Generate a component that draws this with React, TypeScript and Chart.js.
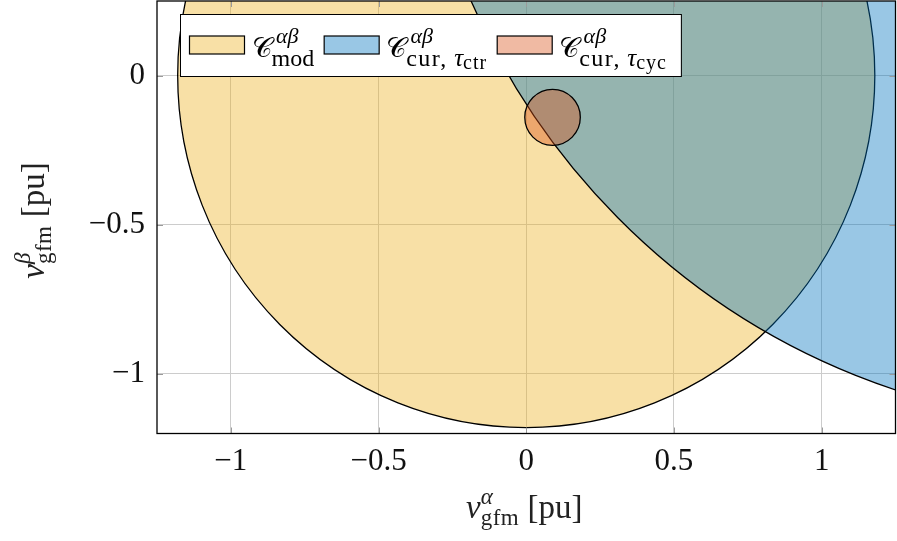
import React, { useEffect, useRef } from "react";
import { Chart, registerables } from "chart.js";

Chart.register(...registerables);

// ---- data ----
const circleNames = ["mod", "cur,ctr", "cur,cyc"];
const circleCenterX = [0, 1.99, 0.089];
const circleCenterY = [0, 1.205, -0.14];
const circleRadius = [1.18, 2.377, 0.094];
const circleColors = [
  "rgba(237,177,32,0.4)",
  "rgba(0,114,189,0.4)",
  "rgba(217,83,25,0.4)",
];
const xTickValues = [-1, -0.5, 0, 0.5, 1];
const yTickValues = [-1, -0.5, 0];
const xRange = [-1.25, 1.25];
const yRange = [-1.2, 0.25];

const FONT = "'Liberation Serif', 'DejaVu Serif', serif";

type Seg = { t: string; size: number; dy: number; it?: boolean; f?: string; ls?: number };
type Item = Seg[][];

function fontOf(s: Seg) {
  return `${s.it ? "italic " : ""}${s.size}px ${s.f || FONT}`;
}
function setSeg(ctx: CanvasRenderingContext2D, s: Seg) {
  ctx.font = fontOf(s);
  (ctx as any).letterSpacing = `${s.ls || 0}px`;
}
function rowWidth(ctx: CanvasRenderingContext2D, row: Seg[]) {
  let w = 0;
  for (const s of row) {
    setSeg(ctx, s);
    w += ctx.measureText(s.t).width;
  }
  (ctx as any).letterSpacing = "0px";
  return w;
}
function itemWidth(ctx: CanvasRenderingContext2D, item: Item) {
  return Math.max(...item.map((r) => rowWidth(ctx, r)));
}
function mathWidth(ctx: CanvasRenderingContext2D, items: Item[]) {
  return items.reduce((a, it) => a + itemWidth(ctx, it), 0);
}
function drawMath(ctx: CanvasRenderingContext2D, items: Item[], x: number, y: number) {
  ctx.textAlign = "left";
  ctx.textBaseline = "alphabetic";
  let cx = x;
  for (const item of items) {
    const w = itemWidth(ctx, item);
    for (const row of item) {
      let rx = cx;
      for (const s of row) {
        setSeg(ctx, s);
        ctx.fillText(s.t, rx, y + s.dy);
        rx += ctx.measureText(s.t).width;
      }
    }
    (ctx as any).letterSpacing = "0px";
    cx += w;
  }
  return cx;
}

const CAL: Seg = { t: "\u{1D49E}", size: 28, dy: 0, f: "'DejaVu Sans', 'Noto Sans', serif" };
const SUP_AB: Seg[] = [{ t: "\u2009αβ", size: 22, dy: -14, it: true }];

function legendLabel(name: string): Item[] {
  if (name === "mod") {
    return [[[CAL]], [SUP_AB, [{ t: "mod", size: 24, dy: 9 }]]];
  }
  const sub = name.split(",")[1];
  return [
    [[CAL]],
    [
      SUP_AB,
      [
        { t: "cur,\u2009", size: 24, dy: 9, ls: 1.5 },
        { t: "τ", size: 25, dy: 9, it: true },
        { t: sub, size: 20, dy: 12, ls: 1 },
      ],
    ],
  ];
}

function axisTitle(sym: string): Item[] {
  return [
    [[{ t: "v", size: 33, dy: 0, it: true }]],
    [[{ t: sym, size: 23, dy: -14, it: true }], [{ t: "gfm", size: 23, dy: 7, ls: 0.5 }]],
    [[{ t: " [pu]", size: 33, dy: 0 }]],
  ];
}

function fmt(v: number) {
  const s = String(Math.abs(v));
  return v < 0 ? "\u2212" + s : s;
}

const circlesPlugin = {
  id: "circles",
  beforeDatasetsDraw(chart: any) {
    const { ctx, chartArea: a, scales } = chart;
    const xs = scales.x;
    const ys = scales.y;
    ctx.save();
    ctx.beginPath();
    ctx.rect(a.left, a.top, a.right - a.left, a.bottom - a.top);
    ctx.clip();
    chart.data.datasets.forEach((ds: any, i: number) => {
      const c = ds.data[0];
      const r = circleRadius[i];
      const px = xs.getPixelForValue(c.x);
      const py = ys.getPixelForValue(c.y);
      const rx = Math.abs(xs.getPixelForValue(c.x + r) - px);
      const ry = Math.abs(ys.getPixelForValue(c.y + r) - py);
      ctx.beginPath();
      ctx.ellipse(px, py, rx, ry, 0, 0, Math.PI * 2);
      ctx.fillStyle = ds.backgroundColor;
      ctx.fill();
      ctx.lineWidth = 1.3;
      ctx.strokeStyle = "#000";
      ctx.stroke();
    });
    ctx.restore();
  },
  afterDraw(chart: any) {
    const { ctx, chartArea: a, scales } = chart;
    ctx.save();
    // tick marks inside
    ctx.strokeStyle = "#9a9a9a";
    ctx.lineWidth = 1;
    const tl = 6;
    for (const v of xTickValues) {
      const px = Math.round(scales.x.getPixelForValue(v)) + 0.5;
      ctx.beginPath();
      ctx.moveTo(px, a.bottom);
      ctx.lineTo(px, a.bottom - tl);
      ctx.moveTo(px, a.top);
      ctx.lineTo(px, a.top + tl);
      ctx.stroke();
    }
    for (const v of yTickValues) {
      const py = Math.round(scales.y.getPixelForValue(v)) + 0.5;
      ctx.beginPath();
      ctx.moveTo(a.left, py);
      ctx.lineTo(a.left + tl, py);
      ctx.moveTo(a.right, py);
      ctx.lineTo(a.right - tl, py);
      ctx.stroke();
    }
    // frame
    ctx.strokeStyle = "#000";
    ctx.lineWidth = 1.3;
    ctx.strokeRect(a.left, a.top, a.right - a.left, a.bottom - a.top);

    // legend
    const lx = a.left + 23;
    const ly = a.top + 13;
    const base = ly + 43;
    let x = lx + 9.5;
    const pieces: { sx: number; items: Item[] }[] = [];
    chart.data.datasets.forEach((ds: any, i: number) => {
      const items = legendLabel(circleNames[i]);
      pieces.push({ sx: x, items });
      x += 55 + 7 + mathWidth(ctx, items) + 10;
    });
    const lw = x - 10 + 14 - lx;
    ctx.fillStyle = "#fff";
    ctx.fillRect(lx, ly, lw, 62);
    ctx.lineWidth = 1;
    ctx.strokeStyle = "#000";
    ctx.strokeRect(lx + 0.5, ly + 0.5, lw, 62);
    pieces.forEach((p, i) => {
      ctx.fillStyle = circleColors[i];
      ctx.fillRect(p.sx, ly + 22, 55, 18);
      ctx.strokeStyle = "#000";
      ctx.lineWidth = 1.2;
      ctx.strokeRect(p.sx, ly + 22, 55, 18);
      ctx.fillStyle = "#000";
      drawMath(ctx, p.items, p.sx + 62, base);
    });

    // axis titles
    ctx.fillStyle = "#222";
    const xt = axisTitle("α");
    const xw = mathWidth(ctx, xt);
    drawMath(ctx, xt, (a.left + a.right) / 2 - xw / 2 - 2, 518);
    const yt = axisTitle("β");
    const yw = mathWidth(ctx, yt);
    ctx.save();
    ctx.translate(44, 220.5);
    ctx.rotate(-Math.PI / 2);
    drawMath(ctx, yt, -yw / 2, 0);
    ctx.restore();
    ctx.restore();
  },
};

export default function App() {
  const ref = useRef<HTMLCanvasElement | null>(null);
  useEffect(() => {
    document.body.style.margin = "0";
    const canvas = ref.current!;
    const chart = new Chart(canvas, {
      type: "scatter",
      data: {
        datasets: circleNames.map((n, i) => ({
          label: n,
          data: [{ x: circleCenterX[i], y: circleCenterY[i] }],
          backgroundColor: circleColors[i],
          pointRadius: 0,
          pointHoverRadius: 0,
        })),
      },
      options: {
        responsive: false,
        animation: false,
        devicePixelRatio: 1,
        events: [],
        layout: { padding: { left: 0, right: 1.5, top: 1, bottom: 0 } },
        plugins: { legend: { display: false }, tooltip: { enabled: false } },
        scales: {
          x: {
            type: "linear",
            min: xRange[0],
            max: xRange[1],
            afterBuildTicks: (s: any) => {
              s.ticks = xTickValues.map((v) => ({ value: v }));
            },
            afterFit: (s: any) => {
              s.height = 107.5;
              s.paddingLeft = 0;
              s.paddingRight = 0;
            },
            grid: { color: "#cccccc", lineWidth: 1, drawTicks: false },
            border: { display: false },
            ticks: {
              color: "#111",
              font: { family: FONT, size: 31 },
              padding: 10,
              maxRotation: 0,
              autoSkip: false,
              callback: (v: any) => fmt(Number(v)),
            },
          },
          y: {
            type: "linear",
            min: yRange[0],
            max: yRange[1],
            afterBuildTicks: (s: any) => {
              s.ticks = yTickValues.map((v) => ({ value: v }));
            },
            afterFit: (s: any) => {
              s.width = 157;
              s.paddingTop = 0;
              s.paddingBottom = 0;
            },
            grid: { color: "#cccccc", lineWidth: 1, drawTicks: false },
            border: { display: false },
            ticks: {
              color: "#111",
              font: { family: FONT, size: 31 },
              padding: 12,
              autoSkip: false,
              callback: (v: any) => fmt(Number(v)),
            },
          },
        },
      },
      plugins: [circlesPlugin],
    });
    return () => chart.destroy();
  }, []);
  return <canvas ref={ref} width={897} height={541} style={{ display: "block" }} />;
}
